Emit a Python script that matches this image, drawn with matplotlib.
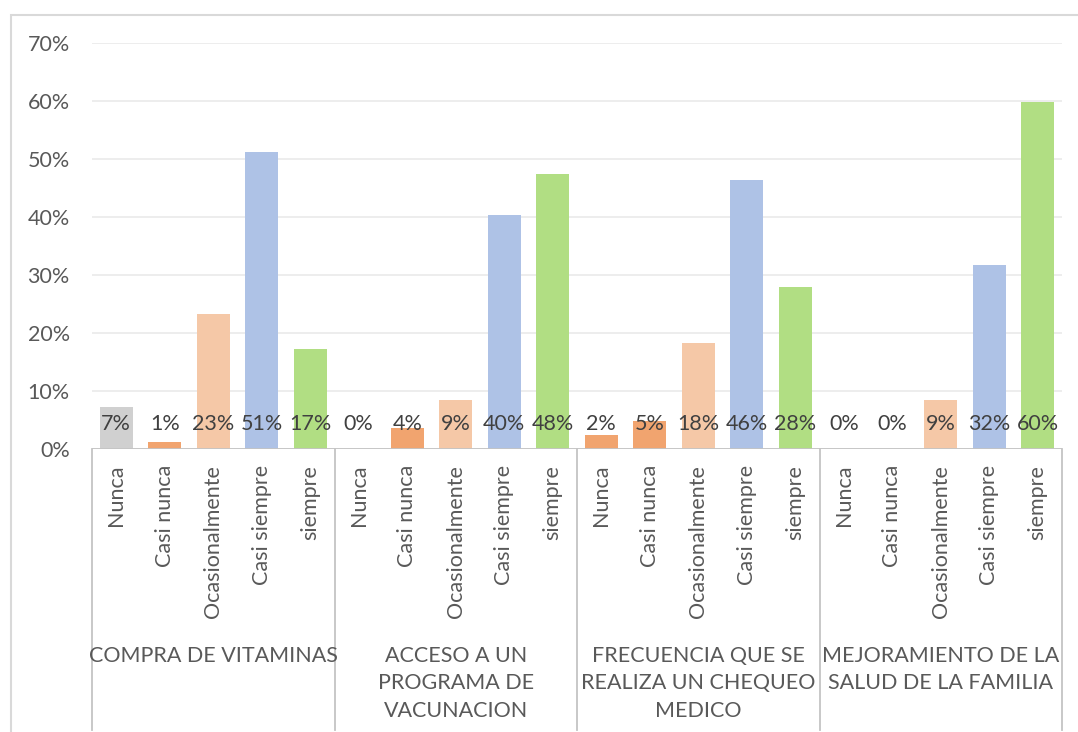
import matplotlib.pyplot as plt
import matplotlib.transforms as mtransforms
from matplotlib.patches import Rectangle

categories = ["Nunca", "Casi nunca", "Ocasionalmente", "Casi siempre", "siempre"]
groups = ["COMPRA DE VITAMINAS",
          "ACCESO A UN\nPROGRAMA DE\nVACUNACION",
          "FRECUENCIA QUE SE\nREALIZA UN CHEQUEO\nMEDICO",
          "MEJORAMIENTO DE LA\nSALUD DE LA FAMILIA"]
values = [
    [7.3, 1.2, 23.2, 51.2, 17.2],
    [0.0, 3.7, 8.5, 40.3, 47.5],
    [2.4, 4.9, 18.3, 46.3, 28.0],
    [0.0, 0.0, 8.5, 31.7, 59.8],
]
labels = [
    ["7%", "1%", "23%", "51%", "17%"],
    ["0%", "4%", "9%", "40%", "48%"],
    ["2%", "5%", "18%", "46%", "28%"],
    ["0%", "0%", "9%", "32%", "60%"],
]

gray = "#D0D0D0"
orange = "#F1A46F"
lorange = "#F5C8A7"
blue = "#AEC2E6"
green = "#B1DE83"
colors = [
    [gray, orange, lorange, blue, green],
    [gray, orange, lorange, blue, green],
    [orange, orange, lorange, blue, green],
    [gray, orange, lorange, blue, green],
]

plt.rcParams['font.family'] = ['Lato', 'DejaVu Sans']
fs = 15.5

W, H = 1078, 732
fig = plt.figure(figsize=(W / 100, H / 100), dpi=100)
ax = fig.add_axes([92 / W, (H - 449) / H, (1062 - 92) / W, (449 - 43) / H])

n = len(categories)
for g in range(len(groups)):
    for i in range(n):
        x = g * n + i
        v = values[g][i] / 100.0
        ax.bar(x, v, width=0.68, color=colors[g][i], zorder=2)
        ax.annotate(labels[g][i], (x, 0), xytext=(0, 18), textcoords="offset points",
                    ha="center", va="center", fontsize=fs, color="#404040", zorder=3)
        ax.annotate(categories[i], (x, 0), xytext=(0, -11.5), textcoords="offset points",
                    ha="center", va="top", rotation=90, fontsize=fs, color="#595959",
                    annotation_clip=False)
    ax.annotate(groups[g], (g * n + 2, 0), xytext=(0, -142), textcoords="offset points",
                ha="center", va="top", fontsize=fs, color="#595959", linespacing=1.45,
                multialignment="center", annotation_clip=False)

ax.set_xlim(-0.5, len(groups) * n - 0.5)
ax.set_ylim(0, 0.70)
ax.set_yticks([i / 10 for i in range(8)])
ax.set_yticklabels([f"{i * 10}%" for i in range(8)])
ax.tick_params(axis="y", length=0, pad=16, labelsize=fs, labelcolor="#595959")
ax.set_xticks([])
ax.grid(axis="y", color="#ECECEC", lw=1.3, zorder=0)
for s in ax.spines.values():
    s.set_visible(False)
ax.axhline(0, color="#C4C4C4", lw=1.3, zorder=4)

trans = mtransforms.blended_transform_factory(ax.transData, ax.transAxes)
for b in range(len(groups) + 1):
    xb = b * n - 0.5
    ax.plot([xb, xb], [0, -0.692], transform=trans, color="#C4C4C4", lw=1.3,
            clip_on=False)

fig.patches.append(Rectangle((11 / W, -0.1), 2, 1.1 - 15 / H, transform=fig.transFigure,
                             fill=False, edgecolor="#D9D9D9", lw=1.5))

fig.savefig("out.png", dpi=100)
